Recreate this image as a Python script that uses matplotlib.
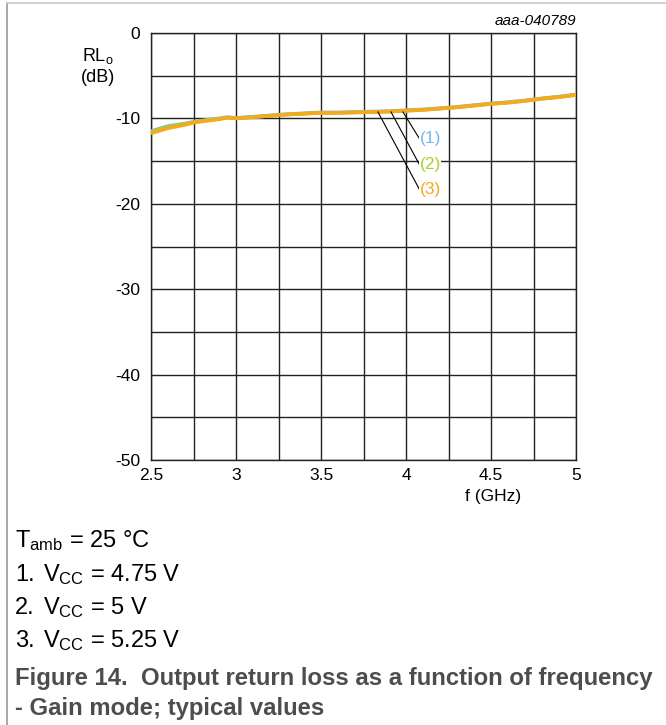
import matplotlib.pyplot as plt
import numpy as np

plt.rcParams['font.family'] = ['Liberation Sans', 'DejaVu Sans']
plt.rcParams['mathtext.fontset'] = 'custom'
plt.rcParams['mathtext.rm'] = 'Liberation Sans'
plt.rcParams['mathtext.it'] = 'Liberation Sans:italic'

# =============================================================================
# Data
# =============================================================================
freq = [2.5, 2.6, 2.7, 2.75, 2.8, 2.9, 2.95, 3.0, 3.1, 3.2, 3.3, 3.4, 3.5,
        3.6, 3.7, 3.8, 3.9, 4.0, 4.1, 4.2, 4.3, 4.4, 4.5, 4.6, 4.7, 4.8, 4.9, 5.0]
rl_475 = [-11.5, -10.9, -10.6, -10.4, -10.25, -10.0, -9.85, -9.95, -9.8, -9.65,
          -9.5, -9.4, -9.3, -9.3, -9.25, -9.2, -9.15, -9.05, -8.95, -8.8, -8.65,
          -8.45, -8.25, -8.1, -7.9, -7.65, -7.45, -7.2]
rl_5 = [-11.6, -11.0, -10.65, -10.45, -10.3, -10.05, -9.9, -10.0, -9.85, -9.7,
        -9.55, -9.45, -9.35, -9.35, -9.3, -9.25, -9.2, -9.1, -9.0, -8.85, -8.7,
        -8.5, -8.3, -8.15, -7.95, -7.7, -7.5, -7.25]
rl_525 = [-11.75, -11.15, -10.75, -10.5, -10.35, -10.1, -9.9, -10.0, -9.85, -9.7,
          -9.55, -9.45, -9.35, -9.35, -9.3, -9.25, -9.2, -9.1, -9.0, -8.85, -8.7,
          -8.5, -8.3, -8.15, -7.95, -7.7, -7.5, -7.25]
x_ticks = [2.5, 3, 3.5, 4, 4.5, 5]
y_ticks = [0, -10, -20, -30, -40, -50]
labels = ['(1)', '(2)', '(3)']
colors = ['#7cb5e8', '#a5d22e', '#f7a81b']

fig = plt.figure(figsize=(6.66, 7.25), dpi=100)
ax = fig.add_axes([151/666, 1-460/725, 425/666, 427/725])

for y, c in zip([rl_475, rl_5, rl_525], colors):
    ax.plot(freq, y, color=c, lw=2.6, solid_capstyle='butt', zorder=3)

ax.set_xlim(2.5, 5)
ax.set_ylim(-50, 0)
ax.set_xticks(np.arange(2.5, 5.01, 0.25), minor=True)
ax.set_yticks(np.arange(-50, 0.1, 5), minor=True)
ax.set_xticks(x_ticks)
ax.set_xticklabels(['2.5', '3', '3.5', '4', '4.5', '5'])
ax.set_yticks(y_ticks)
ax.set_yticklabels(['0', '-10', '-20', '-30', '-40', '-50'])
ax.grid(True, which='both', color='#222222', lw=1.0)
ax.tick_params(which='both', length=0, labelsize=12.5)
ax.tick_params(axis='x', pad=6)
ax.tick_params(axis='y', pad=8)
for s in ax.spines.values():
    s.set_color('#222222')
    s.set_linewidth(1.0)

# leader lines and curve labels
starts = [3.982, 3.912, 3.835]
ends = [(4.08, -12.4), (4.08, -15.45), (4.08, -18.35)]
for (sx, (ex, ey)), lab, c in zip(zip(starts, ends), labels, colors):
    ax.plot([sx, ex], [-9.25, ey], color='black', lw=0.8, zorder=4)
    ax.text(ex, ey, lab, color=c, fontsize=12.5, va='center', ha='left',
            bbox=dict(facecolor='white', edgecolor='none', pad=0.3), zorder=5)

fig.text(98/666, 1-56/725, r'RL$_{\mathrm{o}}$', ha='center', va='center', fontsize=13)
fig.text(98/666, 1-77/725, '(dB)', ha='center', va='center', fontsize=13)
fig.text(576/666, 1-21/725, 'aaa-040789', ha='right', va='center', fontsize=11, style='italic')
fig.text(493/666, 1-496/725, 'f (GHz)', ha='center', va='center', fontsize=12.5)

# notes and caption
fig.text(15/666, 1-541/725, r'T$_{\mathrm{amb}}$ = 25 °C', fontsize=17, va='center')
notes = [r'V$_{\mathrm{CC}}$ = 4.75 V', r'V$_{\mathrm{CC}}$ = 5 V', r'V$_{\mathrm{CC}}$ = 5.25 V']
for i, n in enumerate(notes):
    yy = 1 - (575 + 33*i)/725
    fig.text(15/666, yy, f'{i+1}.', fontsize=17, va='center')
    fig.text(43/666, yy, n, fontsize=17, va='center')
fig.text(15/666, 1-678/725, 'Figure 14.  Output return loss as a function of frequency',
         fontsize=17.2, fontweight='bold', color='#4d4d4d', va='center')
fig.text(15/666, 1-708/725, '- Gain mode; typical values',
         fontsize=17.2, fontweight='bold', color='#4d4d4d', va='center')

# frame lines of the page
fig.add_artist(plt.Line2D([7/666, 7/666], [0, 1-3/725], color='#9a9a9a', lw=1.2))
fig.add_artist(plt.Line2D([7/666, 1], [1-3/725, 1-3/725], color='#c8c8c8', lw=1.2))

fig.savefig('out.png', dpi=100)
